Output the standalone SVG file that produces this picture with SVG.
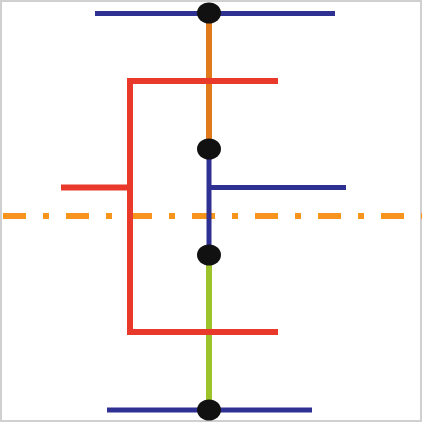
<svg xmlns="http://www.w3.org/2000/svg" width="422" height="422" viewBox="0 0 422 422">
<style>
.blue{stroke:#2e3192;stroke-width:5;fill:none}
.red{stroke:#e8392a;stroke-width:6;fill:none;stroke-linejoin:miter}
.orange{stroke:#e07a1b;stroke-width:6;fill:none}
.green{stroke:#9cc42a;stroke-width:6;fill:none}
.axis{stroke:#f7941d;stroke-width:6;fill:none;stroke-dasharray:23 17 6 17}
.dot{fill:#111111}
</style>
<rect x="1" y="1" width="420" height="420" fill="#ffffff" stroke="#d0d0d0" stroke-width="2"/>
<g id="connectors">
<line class="axis" x1="3" y1="216" x2="422" y2="216"/>
<line class="orange" x1="209" y1="13" x2="209" y2="149"/>
<line class="blue" x1="209" y1="149" x2="209" y2="255"/>
<line class="blue" x1="209" y1="187.5" x2="346" y2="187.5"/>
<line class="green" x1="209" y1="255" x2="209" y2="410"/>
<polyline class="red" points="278,81 130,81 130,332 278,332"/>
<line class="red" x1="61" y1="187.5" x2="130" y2="187.5"/>
</g>
<g id="top-bar"><line class="blue" x1="95" y1="13.5" x2="335" y2="13.5"/></g>
<g id="bottom-bar"><line class="blue" x1="107" y1="410" x2="312" y2="410"/></g>
<g id="node-top"><ellipse class="dot" cx="209" cy="13" rx="12" ry="10.5"/></g>
<g id="node-mid1"><ellipse class="dot" cx="209" cy="149" rx="12" ry="10.5"/></g>
<g id="node-mid2"><ellipse class="dot" cx="209" cy="255" rx="12" ry="10.5"/></g>
<g id="node-bottom"><ellipse class="dot" cx="209" cy="410" rx="12" ry="10.5"/></g>
</svg>
